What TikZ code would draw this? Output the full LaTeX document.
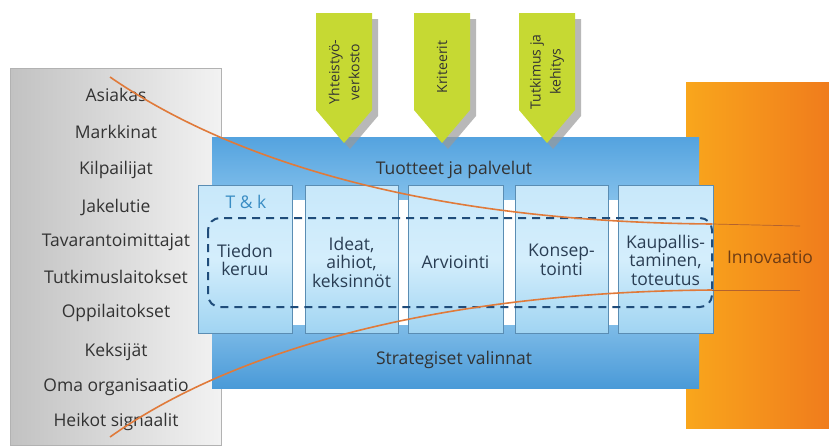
\documentclass[tikz,border=0pt]{standalone}
\usepackage{fontspec}
\setmainfont{Open Sans}
\usetikzlibrary{calc}
\definecolor{txt}{HTML}{333333}
\definecolor{boxtxt}{HTML}{2A3E54}
\definecolor{boxline}{HTML}{5A8DB3}
\definecolor{dashc}{HTML}{1F4C7A}
\definecolor{orl}{HTML}{E07A3A}
\definecolor{grn}{HTML}{C6D933}
\definecolor{shad}{HTML}{9A9A9A}
\definecolor{tkc}{HTML}{3A8DC4}
\begin{document}
\begin{tikzpicture}[x=1pt,y=-1pt,
  lab/.style={font=\fontsize{17.5}{19}\selectfont, text=txt, anchor=center},
  boxt/.style={font=\fontsize{17.5}{18.5}\selectfont, text=boxtxt, align=center, anchor=center},
  arrtxt/.style={font=\fontsize{14}{20}\selectfont, text=txt, align=center, rotate=90, anchor=center}
]
\useasboundingbox (0,0) rectangle (829,445);
% left gray box
\shade[left color=black!24, right color=black!5, draw=black!30, line width=0.8pt] (10,68) rectangle (221,445);
% orange box
\shade[left color={rgb,255:red,249;green,166;blue,28}, right color={rgb,255:red,240;green,124;blue,28}] (686,82) rectangle (829,428);
% blue main box
\shade[top color={rgb,255:red,84;green,163;blue,223}, bottom color={rgb,255:red,74;green,154;blue,216}, middle color={rgb,255:red,178;green,221;blue,247}] (212,137) rectangle (699,388);
% white band
\fill[white] (290,200) rectangle (620,325);
% column boxes
\foreach \n/\a/\b in {b1/198/292, b2/305/398, b3/408/503, b4/515/608, b5/618/713}{
  \shade[top color={rgb,255:red,200;green,232;blue,250}, bottom color={rgb,255:red,160;green,212;blue,242}, middle color={rgb,255:red,212;green,238;blue,252}, draw=boxline, line width=0.8pt] (\a,185) rectangle (\b,333);
  \coordinate (\n) at ({(\a+\b)/2},262);
}
% green arrows
\foreach \n/\a in {g1/316, g2/414, g3/519}{
  \fill[shad, opacity=0.7] (\a+6,19) -- (\a+62,19) -- (\a+62,116) -- (\a+34,149) -- (\a+6,116) -- cycle;
  \fill[grn] (\a,13) -- (\a+56,13) -- (\a+56,110) -- (\a+28,143) -- (\a,110) -- cycle;
  \coordinate (\n) at (\a+28,72);
}
\node[arrtxt] (t1) at (g1) {Yhteistyö-\\verkosto};
\node[arrtxt] (t2) at ($(g2)+(0,-5)$) {Kriteerit};
\node[arrtxt] (t3) at (g3) {Tutkimus ja\\kehitys};
% left labels
\foreach \i/\t/\y in {1/Asiakas/95, 2/Markkinat/132, 3/Kilpailijat/170, 4/Jakelutie/207, 5/Tavarantoimittajat/242, 6/Tutkimuslaitokset/277, 7/Oppilaitokset/313, 8/Keksijät/352, 9/Oma organisaatio/387, 10/Heikot signaalit/422}{
  \node[lab] (l\i) at (116,\y) {\t};
}
% texts in blue box
\node[lab] (tp) at (454,170) {Tuotteet ja palvelut};
\node[lab] (sv) at (454,360) {Strategiset valinnat};
\node[font=\fontsize{17.5}{19}\selectfont, text=tkc] (tk) at (246,202) {T \& k};
\node[boxt] (c1) at ($(b1)+(0,-2)$) {Tiedon\\keruu};
\node[boxt] (c2) at (b2) {Ideat,\\aihiot,\\keksinnöt};
\node[boxt] (c3) at (b3) {Arviointi};
\node[boxt] (c4) at ($(b4)+(0,-2)$) {Konsep-\\tointi};
\node[boxt] (c5) at ($(b5)+(0,-2)$) {Kaupallis-\\taminen,\\toteutus};
\node[font=\fontsize{17.5}{19}\selectfont, text={rgb,255:red,110;green,60;blue,20}] (inn) at (770,257) {Innovaatio};
% dashed rounded box
\draw[dashc, line width=2pt, dash pattern=on 8pt off 6pt, rounded corners=12pt] (208,218) rectangle (712,307);
% orange curves
\coordinate (s1) at (110,77);
\coordinate (e1) at (712,224);
\coordinate (s2) at (110,437);
\coordinate (e2) at (712,290);
\coordinate (f1) at (800,226);
\coordinate (f2) at (800,290);
\draw[orl, line width=1.6pt] (s1) .. controls (245,170) and (450,222) .. (e1);
\draw[orl, line width=1.6pt] (s2) .. controls (240,345) and (450,292) .. (e2);
\draw[orl!80!black, line width=0.7pt] (e1) -- (f1);
\draw[orl!80!black, line width=0.7pt] (e2) -- (f2);
\end{tikzpicture}
\end{document}
